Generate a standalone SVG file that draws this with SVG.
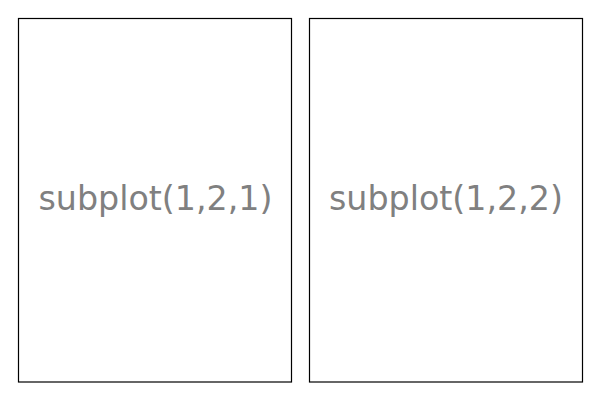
<svg xmlns="http://www.w3.org/2000/svg" width="600" height="400" viewBox="0 0 600 400">
<style>
.ax{fill:#fff;stroke:#000;stroke-width:1.2}
.lbl{font-family:"DejaVu Sans",sans-serif;font-size:33.3px;fill:#808080;text-anchor:middle}
</style>
<rect width="600" height="400" fill="#fff"/>
<g id="subplot1">
<rect class="ax" x="18.5" y="18.5" width="273" height="363.5"/>
<text class="lbl" x="155.5" y="210">subplot(1,2,1)</text>
</g>
<g id="subplot2">
<rect class="ax" x="309.5" y="18.5" width="273" height="363.5"/>
<text class="lbl" x="446" y="210">subplot(1,2,2)</text>
</g>
<g id="connectors"></g>
</svg>
